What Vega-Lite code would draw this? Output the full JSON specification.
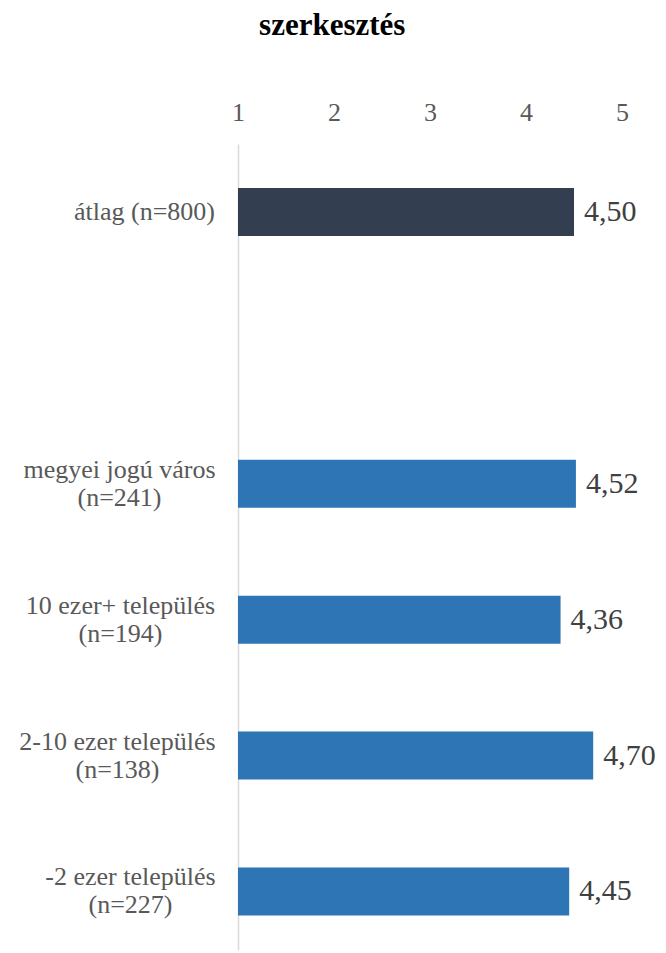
{
  "$schema": "https://vega.github.io/schema/vega-lite/v6.json",
  "width": 384,
  "height": 806,
  "autosize": "none",
  "padding": {"left": 238, "top": 144, "right": 44, "bottom": 3},
  "background": "white",
  "config": {
    "locale": {"number": {"decimal": ",", "thousands": " ", "grouping": [3], "currency": ["", ""]}},
    "view": {"stroke": null},
    "font": "Liberation Serif"
  },
  "title": {
    "text": "szerkesztés",
    "font": "Liberation Serif",
    "fontSize": 31,
    "fontWeight": "bold",
    "color": "#000000",
    "anchor": "middle",
    "frame": "bounds",
    "offset": 57,
    "dx": -5
  },
  "data": {
    "values": [
      {"category": "átlag (n=800)", "group": "avg", "value": 4.50},
      {"category": "megyei jogú város|(n=241)", "group": "sub", "value": 4.52},
      {"category": "10 ezer+ település|(n=194)", "group": "sub", "value": 4.36},
      {"category": "2-10 ezer település|(n=138)", "group": "sub", "value": 4.70},
      {"category": "-2 ezer település|(n=227)", "group": "sub", "value": 4.45}
    ]
  },
  "encoding": {
    "y": {
      "field": "category",
      "type": "nominal",
      "sort": null,
      "scale": {
        "domain": ["átlag (n=800)", " ", "megyei jogú város|(n=241)", "10 ezer+ település|(n=194)", "2-10 ezer település|(n=138)", "-2 ezer település|(n=227)"],
        "paddingInner": 0.647,
        "paddingOuter": 0.289,
        "align": 0.56
      },
      "axis": {
        "title": null,
        "ticks": false,
        "domain": true,
        "domainColor": "#D9D9D9",
        "domainWidth": 1.5,
        "labelFont": "Liberation Serif",
        "labelFontSize": 26,
        "labelColor": "#595959",
        "labelLineHeight": 28,
        "labelBaseline": "middle",
        "labelAlign": "center",
        "labelLimit": 0,
        "labelOverlap": false,
        "labelOffset": {
          "condition": {"test": "indexof(datum.value, '|') >= 0", "value": -14},
          "value": 0
        },
        "labelPadding": {
          "condition": [
            {"test": "datum.value == 'átlag (n=800)'", "value": 94},
            {"test": "datum.value == 'megyei jogú város|(n=241)'", "value": 119},
            {"test": "datum.value == '10 ezer+ település|(n=194)'", "value": 118},
            {"test": "datum.value == '2-10 ezer település|(n=138)'", "value": 121},
            {"test": "datum.value == '-2 ezer település|(n=227)'", "value": 108}
          ],
          "value": 110
        },
        "labelExpr": "split(datum.label, '|')"
      }
    }
  },
  "layer": [
    {
      "mark": {"type": "bar"},
      "encoding": {
        "x": {
          "field": "value",
          "type": "quantitative",
          "scale": {"domain": [1, 5], "zero": false, "nice": false},
          "axis": {
            "orient": "top",
            "values": [1, 2, 3, 4, 5],
            "format": "d",
            "domain": false,
            "ticks": false,
            "grid": false,
            "title": null,
            "labelFont": "Liberation Serif",
            "labelFontSize": 26,
            "labelColor": "#595959",
            "labelPadding": 19,
            "labelFlush": false,
            "labelOverlap": false
          }
        },
        "x2": {"datum": 1},
        "color": {
          "field": "group",
          "type": "nominal",
          "scale": {"domain": ["avg", "sub"], "range": ["#333F50", "#2E75B6"]},
          "legend": null
        }
      }
    },
    {
      "mark": {"type": "text", "align": "left", "baseline": "middle", "dx": 10, "fontSize": 30, "color": "#404040", "font": "Liberation Serif"},
      "encoding": {
        "x": {"field": "value", "type": "quantitative"},
        "text": {"field": "value", "type": "quantitative", "format": ".2f"}
      }
    }
  ]
}
